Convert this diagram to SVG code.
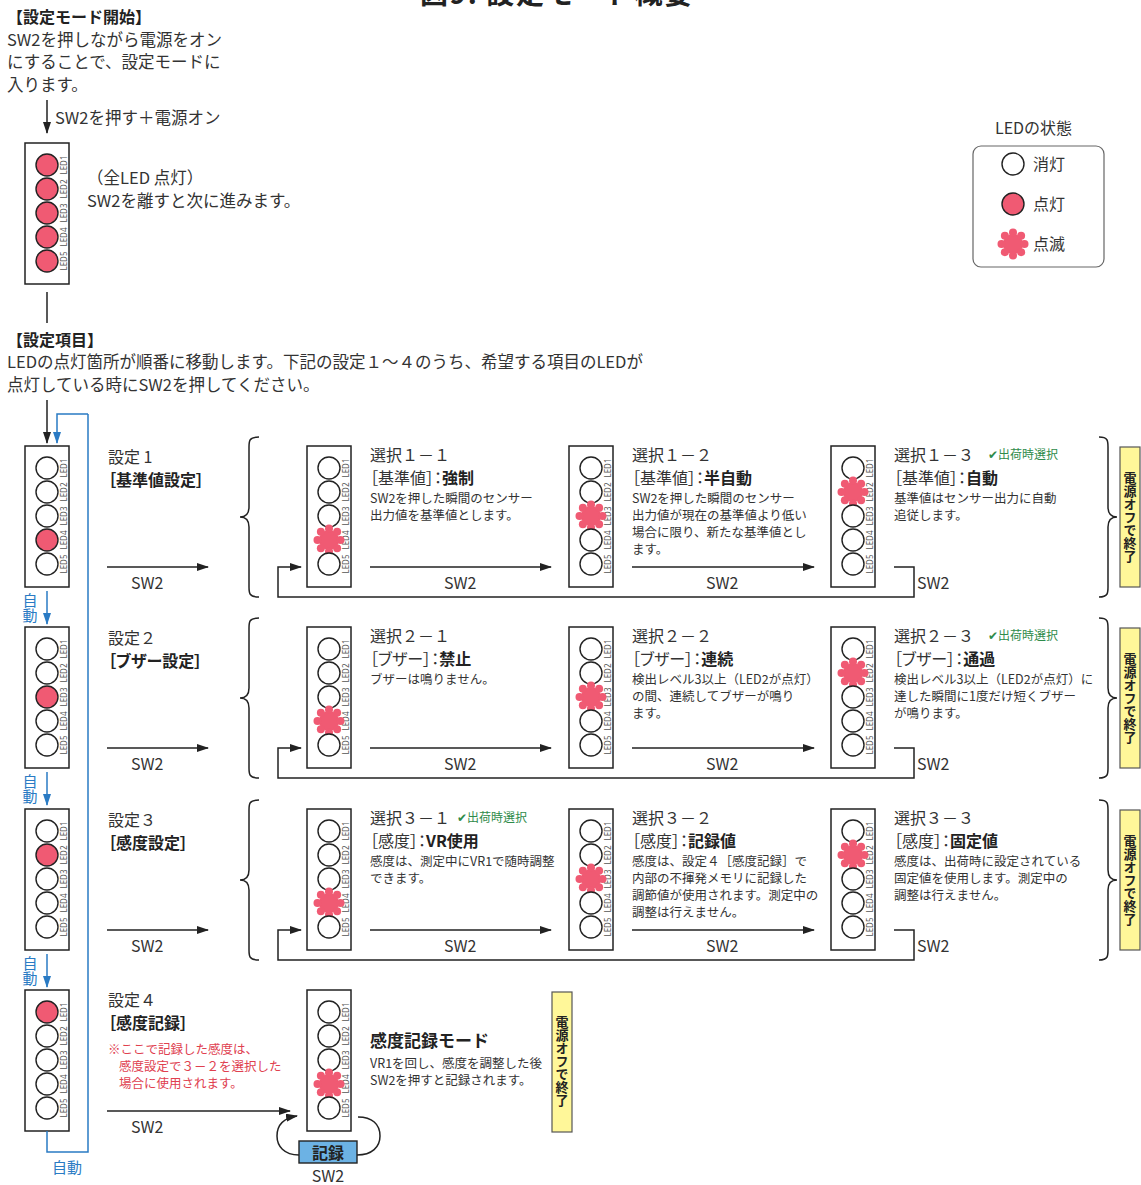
<svg xmlns="http://www.w3.org/2000/svg" xmlns:xlink="http://www.w3.org/1999/xlink" width="1141" height="1185" viewBox="0 0 1141 1185">
<style>
text{font-family:"Noto Sans CJK JP","Noto Sans",sans-serif;fill:#333;font-size:16px}
.b{font-weight:bold;fill:#222}
.d{font-size:12.5px}
.p{font-feature-settings:"palt"}
.lbl{font-family:"Noto Sans","DejaVu Sans",sans-serif;font-size:8px;fill:#555;text-anchor:middle}
.blue{fill:#2a7bc4;font-size:15px}
.vt{writing-mode:vertical-rl}
.green{fill:#2e8b4a;font-size:12px}
.red{fill:#e0404f;font-size:12.5px}
.ln{stroke:#222;stroke-width:1.5;fill:none}
.bl{stroke:#2a7bc4;stroke-width:1.5;fill:none}
.box{fill:#fff;stroke:#222;stroke-width:1.5}
.yb{fill:#fff799;stroke:#555;stroke-width:1.2}
.yt{font-size:13px;font-weight:bold;fill:#222;writing-mode:vertical-rl}
.sw{font-size:16px}
</style>
<defs>
<marker id="ah" markerWidth="12" markerHeight="8" refX="11" refY="4" orient="auto" markerUnits="userSpaceOnUse"><path d="M0,0 L12,4 L0,8 z" fill="#222"/></marker>
<marker id="ahb" markerWidth="12" markerHeight="8" refX="11" refY="4" orient="auto" markerUnits="userSpaceOnUse"><path d="M0,0 L12,4 L0,8 z" fill="#2a7bc4"/></marker>
<circle id="off" r="11" fill="#fff" stroke="#222" stroke-width="1.4"/>
<circle id="on" r="11" fill="#f05a73" stroke="#222" stroke-width="1.4"/>
<g id="blink" fill="#f05a73">
<circle r="10"/>
<circle cx="11.5" cy="0" r="4"/><circle cx="8.13" cy="8.13" r="4"/><circle cx="0" cy="11.5" r="4"/><circle cx="-8.13" cy="8.13" r="4"/>
<circle cx="-11.5" cy="0" r="4"/><circle cx="-8.13" cy="-8.13" r="4"/><circle cx="0" cy="-11.5" r="4"/><circle cx="8.13" cy="-8.13" r="4"/>
</g>
<g id="lb">
<rect x="0" y="0" width="44" height="141" class="box"/>
<text class="lbl" transform="translate(42,22) rotate(-90)">LED1</text>
<text class="lbl" transform="translate(42,46) rotate(-90)">LED2</text>
<text class="lbl" transform="translate(42,70) rotate(-90)">LED3</text>
<text class="lbl" transform="translate(42,94) rotate(-90)">LED4</text>
<text class="lbl" transform="translate(42,118) rotate(-90)">LED5</text>
</g>
</defs>
<rect width="1141" height="1185" fill="#fff"/>

<text x="420" y="4" class="b" style="font-size:28px" textLength="272" lengthAdjust="spacing">図9. 設定モード概要</text>

<!-- intro -->
<g id="intro">
<text x="7" y="23" class="b">【設定モード開始】</text>
<text x="7" y="46" style="font-size:16.5px">SW2を押しながら電源をオン</text>
<text x="7" y="68" style="font-size:16.5px">にすることで、設定モードに</text>
<text x="7" y="91" style="font-size:16.5px">入ります。</text>
<text x="55" y="124" style="font-size:16.5px">SW2を押す＋電源オン</text>
</g>

<g id="start-node">
<use href="#lb" x="25" y="143"/>
<use href="#on" x="47" y="165"/><use href="#on" x="47" y="189"/><use href="#on" x="47" y="213"/><use href="#on" x="47" y="237"/><use href="#on" x="47" y="261"/>
<text x="87" y="184" style="font-size:16.5px">（全LED 点灯）</text>
<text x="87" y="207" style="font-size:16.5px">SW2を離すと次に進みます。</text>
</g>

<g id="legend">
<text x="995" y="134">LEDの状態</text>
<rect x="973" y="146" width="131" height="121" rx="8" fill="none" stroke="#666" stroke-width="1.2"/>
<use href="#off" x="1013" y="164"/><text x="1033" y="170">消灯</text>
<use href="#on" x="1013" y="204"/><text x="1033" y="210">点灯</text>
<use href="#blink" x="1013" y="244"/><text x="1033" y="250">点滅</text>
</g>

<g id="items-intro">
<text x="7" y="346" class="b">【設定項目】</text>
<text x="7" y="368" style="font-size:16.5px">LEDの点灯箇所が順番に移動します。下記の設定１～４のうち、希望する項目のLEDが</text>
<text x="7" y="391" style="font-size:16.5px">点灯している時にSW2を押してください。</text>
</g>

<!-- left column -->
<g id="set1-node"><use href="#lb" x="25" y="446"/>
<use href="#off" x="47" y="468"/><use href="#off" x="47" y="492"/><use href="#off" x="47" y="516"/><use href="#on" x="47" y="540"/><use href="#off" x="47" y="564"/></g>
<g id="set2-node"><use href="#lb" x="25" y="627"/>
<use href="#off" x="47" y="649"/><use href="#off" x="47" y="673"/><use href="#on" x="47" y="697"/><use href="#off" x="47" y="721"/><use href="#off" x="47" y="745"/></g>
<g id="set3-node"><use href="#lb" x="25" y="809"/>
<use href="#off" x="47" y="831"/><use href="#on" x="47" y="855"/><use href="#off" x="47" y="879"/><use href="#off" x="47" y="903"/><use href="#off" x="47" y="927"/></g>
<g id="set4-node"><use href="#lb" x="25" y="990"/>
<use href="#on" x="47" y="1012"/><use href="#off" x="47" y="1036"/><use href="#off" x="47" y="1060"/><use href="#off" x="47" y="1084"/><use href="#off" x="47" y="1108"/></g>

<!-- Row 1 -->
<g id="row1">
<g id="set1-label"><text x="108" y="463">設定 1</text><text x="108" y="486" class="b p">［基準値設定］</text></g>
<g id="sel1-1"><use href="#lb" x="307" y="446"/>
<use href="#off" x="329" y="468"/><use href="#off" x="329" y="492"/><use href="#off" x="329" y="516"/><use href="#blink" x="329" y="540"/><use href="#off" x="329" y="564"/>
<text x="370" y="461">選択１－１</text>
<text x="370" y="484" class="p">［基準値］：<tspan class="b">強制</tspan></text>
<text x="370" y="503" class="d">SW2を押した瞬間のセンサー</text>
<text x="370" y="520" class="d">出力値を基準値とします。</text></g>
<g id="sel1-2"><use href="#lb" x="569" y="446"/>
<use href="#off" x="591" y="468"/><use href="#off" x="591" y="492"/><use href="#blink" x="591" y="516"/><use href="#off" x="591" y="540"/><use href="#off" x="591" y="564"/>
<text x="632" y="461">選択１－２</text>
<text x="632" y="484" class="p">［基準値］：<tspan class="b">半自動</tspan></text>
<text x="632" y="503" class="d">SW2を押した瞬間のセンサー</text>
<text x="632" y="520" class="d">出力値が現在の基準値より低い</text>
<text x="632" y="537" class="d">場合に限り、新たな基準値とし</text>
<text x="632" y="554" class="d">ます。</text></g>
<g id="sel1-3"><use href="#lb" x="831" y="446"/>
<use href="#off" x="853" y="468"/><use href="#blink" x="853" y="492"/><use href="#off" x="853" y="516"/><use href="#off" x="853" y="540"/><use href="#off" x="853" y="564"/>
<text x="894" y="461">選択１－３</text><text x="988" y="459" class="green">✔出荷時選択</text>
<text x="894" y="484" class="p">［基準値］：<tspan class="b">自動</tspan></text>
<text x="894" y="503" class="d">基準値はセンサー出力に自動</text>
<text x="894" y="520" class="d">追従します。</text></g>
<g id="end1"><rect x="1120" y="447" width="20" height="140" class="yb"/>
<text x="1130" y="472" class="yt">電源オフで終了</text></g>
</g>

<!-- Row 2 -->
<g id="row2">
<g id="set2-label"><text x="108" y="644">設定２</text><text x="108" y="667" class="b p">［ブザー設定］</text></g>
<g id="sel2-1"><use href="#lb" x="307" y="627"/>
<use href="#off" x="329" y="649"/><use href="#off" x="329" y="673"/><use href="#off" x="329" y="697"/><use href="#blink" x="329" y="721"/><use href="#off" x="329" y="745"/>
<text x="370" y="642">選択２－１</text>
<text x="370" y="665" class="p">［ブザー］：<tspan class="b">禁止</tspan></text>
<text x="370" y="684" class="d">ブザーは鳴りません。</text></g>
<g id="sel2-2"><use href="#lb" x="569" y="627"/>
<use href="#off" x="591" y="649"/><use href="#off" x="591" y="673"/><use href="#blink" x="591" y="697"/><use href="#off" x="591" y="721"/><use href="#off" x="591" y="745"/>
<text x="632" y="642">選択２－２</text>
<text x="632" y="665" class="p">［ブザー］：<tspan class="b">連続</tspan></text>
<text x="632" y="684" class="d">検出レベル3以上（LED2が点灯）</text>
<text x="632" y="701" class="d">の間、連続してブザーが鳴り</text>
<text x="632" y="718" class="d">ます。</text></g>
<g id="sel2-3"><use href="#lb" x="831" y="627"/>
<use href="#off" x="853" y="649"/><use href="#blink" x="853" y="673"/><use href="#off" x="853" y="697"/><use href="#off" x="853" y="721"/><use href="#off" x="853" y="745"/>
<text x="894" y="642">選択２－３</text><text x="988" y="640" class="green">✔出荷時選択</text>
<text x="894" y="665" class="p">［ブザー］：<tspan class="b">通過</tspan></text>
<text x="894" y="684" class="d">検出レベル3以上（LED2が点灯）に</text>
<text x="894" y="701" class="d">達した瞬間に1度だけ短くブザー</text>
<text x="894" y="718" class="d">が鳴ります。</text></g>
<g id="end2"><rect x="1120" y="628" width="20" height="140" class="yb"/>
<text x="1130" y="653" class="yt">電源オフで終了</text></g>
</g>

<!-- Row 3 -->
<g id="row3">
<g id="set3-label"><text x="108" y="826">設定３</text><text x="108" y="849" class="b p">［感度設定］</text></g>
<g id="sel3-1"><use href="#lb" x="307" y="809"/>
<use href="#off" x="329" y="831"/><use href="#off" x="329" y="855"/><use href="#off" x="329" y="879"/><use href="#blink" x="329" y="903"/><use href="#off" x="329" y="927"/>
<text x="370" y="824">選択３－１</text><text x="457" y="822" class="green">✔出荷時選択</text>
<text x="370" y="847" class="p">［感度］：<tspan class="b">VR使用</tspan></text>
<text x="370" y="866" class="d">感度は、測定中にVR1で随時調整</text>
<text x="370" y="883" class="d">できます。</text></g>
<g id="sel3-2"><use href="#lb" x="569" y="809"/>
<use href="#off" x="591" y="831"/><use href="#off" x="591" y="855"/><use href="#blink" x="591" y="879"/><use href="#off" x="591" y="903"/><use href="#off" x="591" y="927"/>
<text x="632" y="824">選択３－２</text>
<text x="632" y="847" class="p">［感度］：<tspan class="b">記録値</tspan></text>
<text x="632" y="866" class="d">感度は、設定４［感度記録］で</text>
<text x="632" y="883" class="d">内部の不揮発メモリに記録した</text>
<text x="632" y="900" class="d">調節値が使用されます。測定中の</text>
<text x="632" y="917" class="d">調整は行えません。</text></g>
<g id="sel3-3"><use href="#lb" x="831" y="809"/>
<use href="#off" x="853" y="831"/><use href="#blink" x="853" y="855"/><use href="#off" x="853" y="879"/><use href="#off" x="853" y="903"/><use href="#off" x="853" y="927"/>
<text x="894" y="824">選択３－３</text>
<text x="894" y="847" class="p">［感度］：<tspan class="b">固定値</tspan></text>
<text x="894" y="866" class="d">感度は、出荷時に設定されている</text>
<text x="894" y="883" class="d">固定値を使用します。測定中の</text>
<text x="894" y="900" class="d">調整は行えません。</text></g>
<g id="end3"><rect x="1120" y="810" width="20" height="140" class="yb"/>
<text x="1130" y="835" class="yt">電源オフで終了</text></g>
</g>

<!-- Row 4 -->
<g id="row4">
<g id="set4-label"><text x="108" y="1006">設定４</text><text x="108" y="1029" class="b p">［感度記録］</text>
<text x="108" y="1054" class="red">※ここで記録した感度は、</text>
<text x="119" y="1071" class="red">感度設定で３－２を選択した</text>
<text x="119" y="1088" class="red">場合に使用されます。</text></g>
<g id="rec-mode"><use href="#lb" x="307" y="990"/>
<use href="#off" x="329" y="1012"/><use href="#off" x="329" y="1036"/><use href="#off" x="329" y="1060"/><use href="#blink" x="329" y="1084"/><use href="#off" x="329" y="1108"/>
<text x="370" y="1047" class="b" style="font-size:17px">感度記録モード</text>
<text x="370" y="1068" class="d">VR1を回し、感度を調整した後</text>
<text x="370" y="1085" class="d">SW2を押すと記録されます。</text></g>
<g id="rec-btn"><rect x="299" y="1141" width="58" height="22" fill="#6cb2e4" stroke="#222" stroke-width="1.4"/>
<text x="328" y="1159" class="b" text-anchor="middle">記録</text>
<text x="328" y="1182" text-anchor="middle">SW2</text></g>
<g id="end4"><rect x="552" y="992" width="20" height="140" class="yb"/>
<text x="562" y="1016" class="yt">電源オフで終了</text></g>
</g>

<!-- connectors -->
<g id="connectors">
<line x1="47" y1="100" x2="47" y2="133" class="ln" marker-end="url(#ah)"/>
<line x1="47" y1="292" x2="47" y2="323" class="ln"/>
<line x1="47" y1="400" x2="47" y2="443" class="ln" marker-end="url(#ah)"/>
<path d="M88,414 H57 V443" class="bl" marker-end="url(#ahb)"/>
<path d="M47,1131 V1152 H88 V414" class="bl"/>
<text x="52" y="1173" class="blue">自動</text>
<line x1="47" y1="591" x2="47" y2="624" class="bl" marker-end="url(#ahb)"/>
<text x="30" y="593" class="blue vt">自動</text>
<line x1="47" y1="772" x2="47" y2="805" class="bl" marker-end="url(#ahb)"/>
<text x="30" y="774" class="blue vt">自動</text>
<line x1="47" y1="954" x2="47" y2="987" class="bl" marker-end="url(#ahb)"/>
<text x="30" y="956" class="blue vt">自動</text>

<g id="conn-row1">
<path d="M259,437 C249,437 249,441 249,447 L249,507 C249,514 246,517 240,517 C246,517 249,520 249,527 L249,587 C249,593 249,597 259,597" class="ln"/>
<path d="M1099,437 C1108,437 1108,441 1108,447 L1108,507 C1108,514 1111,517 1117,517 C1111,517 1108,520 1108,527 L1108,587 C1108,593 1108,597 1099,597" class="ln"/>
<line x1="107" y1="567" x2="208" y2="567" class="ln" marker-end="url(#ah)"/><text x="131" y="589" class="sw">SW2</text>
<line x1="370" y1="567" x2="551" y2="567" class="ln" marker-end="url(#ah)"/><text x="444" y="589" class="sw">SW2</text>
<line x1="632" y1="567" x2="814" y2="567" class="ln" marker-end="url(#ah)"/><text x="706" y="589" class="sw">SW2</text>
<path d="M894,567 H914 V597 H278 V567 H301" class="ln" marker-end="url(#ah)"/><text x="917" y="589" class="sw">SW2</text>
</g>
<g id="conn-row2" transform="translate(0,181)">
<path d="M259,437 C249,437 249,441 249,447 L249,507 C249,514 246,517 240,517 C246,517 249,520 249,527 L249,587 C249,593 249,597 259,597" class="ln"/>
<path d="M1099,437 C1108,437 1108,441 1108,447 L1108,507 C1108,514 1111,517 1117,517 C1111,517 1108,520 1108,527 L1108,587 C1108,593 1108,597 1099,597" class="ln"/>
<line x1="107" y1="567" x2="208" y2="567" class="ln" marker-end="url(#ah)"/><text x="131" y="589" class="sw">SW2</text>
<line x1="370" y1="567" x2="551" y2="567" class="ln" marker-end="url(#ah)"/><text x="444" y="589" class="sw">SW2</text>
<line x1="632" y1="567" x2="814" y2="567" class="ln" marker-end="url(#ah)"/><text x="706" y="589" class="sw">SW2</text>
<path d="M894,567 H914 V597 H278 V567 H301" class="ln" marker-end="url(#ah)"/><text x="917" y="589" class="sw">SW2</text>
</g>
<g id="conn-row3" transform="translate(0,363)">
<path d="M259,437 C249,437 249,441 249,447 L249,507 C249,514 246,517 240,517 C246,517 249,520 249,527 L249,587 C249,593 249,597 259,597" class="ln"/>
<path d="M1099,437 C1108,437 1108,441 1108,447 L1108,507 C1108,514 1111,517 1117,517 C1111,517 1108,520 1108,527 L1108,587 C1108,593 1108,597 1099,597" class="ln"/>
<line x1="107" y1="567" x2="208" y2="567" class="ln" marker-end="url(#ah)"/><text x="131" y="589" class="sw">SW2</text>
<line x1="370" y1="567" x2="551" y2="567" class="ln" marker-end="url(#ah)"/><text x="444" y="589" class="sw">SW2</text>
<line x1="632" y1="567" x2="814" y2="567" class="ln" marker-end="url(#ah)"/><text x="706" y="589" class="sw">SW2</text>
<path d="M894,567 H914 V597 H278 V567 H301" class="ln" marker-end="url(#ah)"/><text x="917" y="589" class="sw">SW2</text>
</g>
<g id="conn-row4">
<line x1="107" y1="1111" x2="290" y2="1111" class="ln" marker-end="url(#ah)"/><text x="131" y="1133" class="sw">SW2</text>
<path d="M299,1155 C284,1155 277,1146 277,1136 C277,1125 284,1118 297,1116" class="ln" marker-end="url(#ah)"/>
<path d="M357,1155 C372,1155 380,1147 380,1136 C380,1124 372,1117 358,1117" class="ln"/>
</g>
</g>
</svg>
